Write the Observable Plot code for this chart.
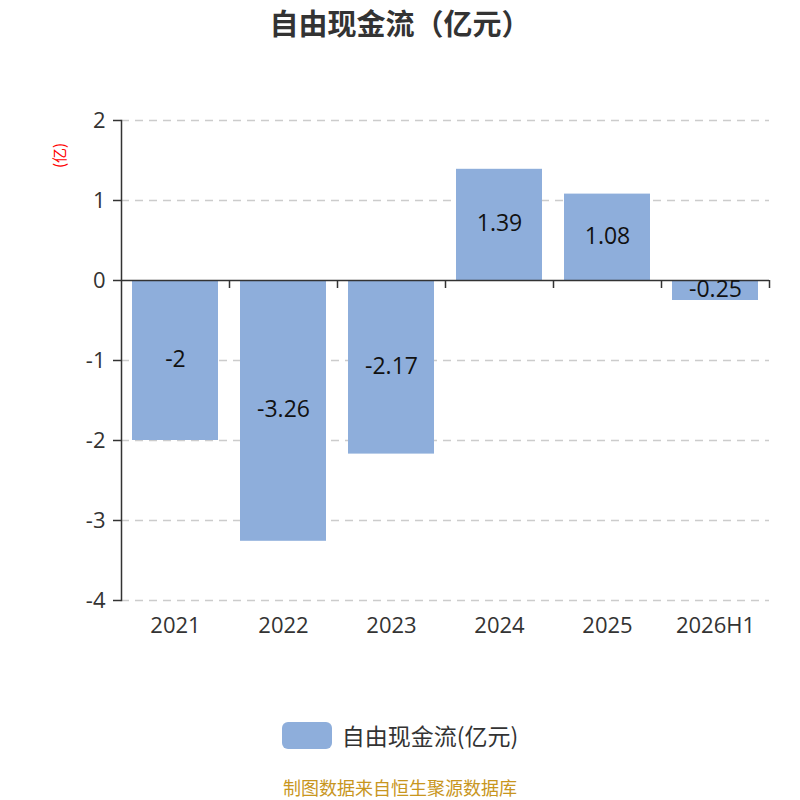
<!DOCTYPE html>
<html><head><meta charset="utf-8">
<script src="https://cdn.jsdelivr.net/npm/d3@7"></script>
<script src="https://cdn.jsdelivr.net/npm/@observablehq/plot@0.6"></script>
<style>
body{margin:0;background:#fff;}
#wrap{position:relative;width:800px;height:800px;font-family:"Noto Sans CJK SC","Noto Sans",sans-serif;overflow:hidden;}
#title{position:absolute;top:2px;left:0;width:800px;text-align:center;font-size:29px;line-height:40px;font-weight:bold;color:#333;}
#chart{position:absolute;top:0;left:0;}
#legend{position:absolute;top:718px;left:0;width:800px;display:flex;justify-content:center;align-items:center;font-size:23px;color:#333;}
#legend .sw{width:50px;height:27px;border-radius:6px;background:#8eaedb;margin-right:10px;}
#foot{position:absolute;top:777px;left:0;width:800px;text-align:center;font-size:18px;line-height:20px;color:#c8961e;}
</style></head>
<body><div id="wrap">
<div id="chart"></div>
<div id="title">自由现金流（亿元）</div>
<div id="legend"><div class="sw"></div><span>自由现金流(亿元)</span></div>
<div id="foot">制图数据来自恒生聚源数据库</div>
</div>
<script>
const categories = ["2021","2022","2023","2024","2025","2026H1"];
const values = [-2, -3.26, -2.17, 1.39, 1.08, -0.25];
const labels = ["-2","-3.26","-2.17","1.39","1.08","-0.25"];
const yTicks = [2,1,0,-1,-2,-3,-4];

const data = categories.map((c,i)=>({cat:c, v:values[i], label:labels[i]}));
const step = 648/6;
const numFont = '"Open Sans","Noto Sans CJK SC",sans-serif';

const chart = Plot.plot({
  width: 800, height: 660,
  marginTop: 120, marginBottom: 60, marginLeft: 121, marginRight: 31,
  style: {fontFamily: numFont, background: "transparent"},
  x: {domain: categories, paddingInner: 0.2, paddingOuter: 0.1, axis: null, label: null},
  y: {domain: [-4, 2], axis: null, label: null},
  marks: [
    Plot.ruleY(yTicks.filter(d=>d!==0), {stroke:"#ccc", strokeWidth:1.3, strokeDasharray:"8,6"}),
    Plot.barY(data, {x:"cat", y:"v", fill:"#8eaedb"}),
    Plot.ruleY([0], {stroke:"#333", strokeWidth:1.5}),
    Plot.ruleX(categories, {x: d=>d, y1: 0, y2: -0.1, dx: step/2, stroke:"#333", strokeWidth:1.5}),
    Plot.frame({anchor:"left", stroke:"#333", strokeWidth:1.5}),
    Plot.axisY({ticks: yTicks, tickSize: 8, tickPadding: 8, label: null, tickFormat: d=>String(d), fontSize: 22, color:"#333", stroke:"#333", strokeWidth:1.5, strokeOpacity:1}),
    Plot.axisX({anchor:"bottom", tickSize: 0, tickPadding: 17, label: null, fontSize: 22, color:"#333"}),
    Plot.text(data, {x:"cat", y: d=>d.v/2, text:"label", fontSize:23, fill:"#111", dy:-1}),
    Plot.text(["(亿)"], {frameAnchor:"top-left", textAnchor:"middle", lineAnchor:"middle", dx:-61, dy:35, rotate:-90, text:d=>d, fontSize:15, fill:"red", fontFamily:'"Noto Sans CJK SC",sans-serif'})
  ]
});
document.getElementById("chart").appendChild(chart);
</script>
</body></html>
